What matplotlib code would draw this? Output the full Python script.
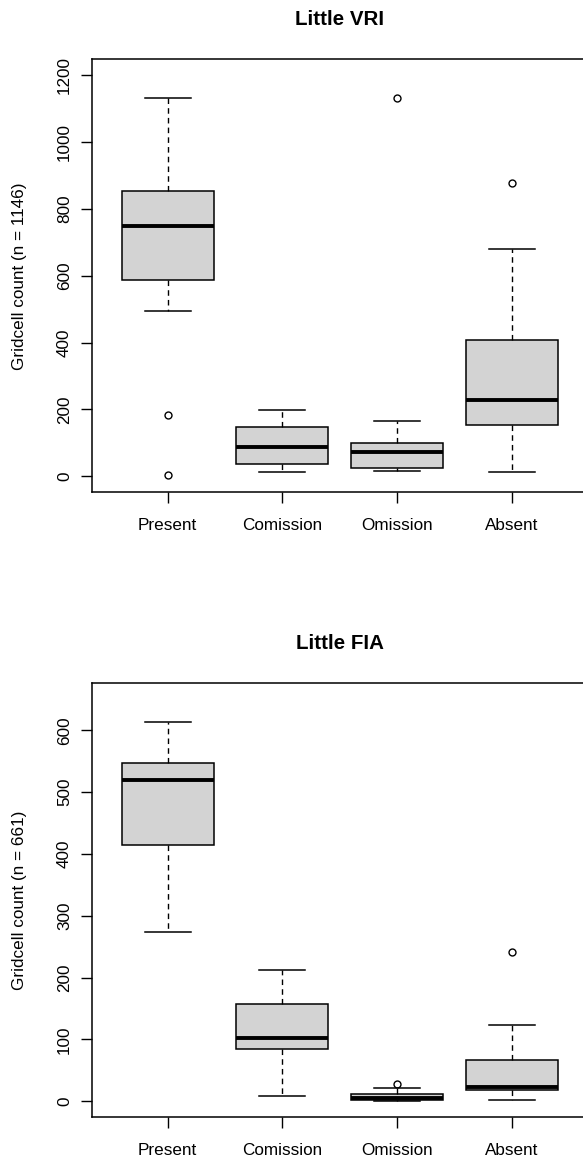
import numpy as np
import matplotlib
matplotlib.use("Agg")
import matplotlib.pyplot as plt

plt.rcParams['font.family'] = ['Liberation Sans', 'DejaVu Sans']

categories = ["Present", "Comission", "Omission", "Absent"]

# Little VRI
vri_whislo = [496, 12, 17, 12]
vri_q1 = [588, 37, 25, 153]
vri_med = [749, 87, 73, 227]
vri_q3 = [855, 148, 100, 408]
vri_whishi = [1133, 199, 166, 680]
vri_fliers = [[183, 3], [], [1133], [879]]

# Little FIA
fia_whislo = [273, 8, 0, 2]
fia_q1 = [415, 85, 2, 18]
fia_med = [519, 103, 6, 23]
fia_q3 = [547, 158, 11, 66]
fia_whishi = [613, 212, 22, 124]
fia_fliers = [[], [], [28], [242]]

W, H = 583, 1161
fig = plt.figure(figsize=(W / 100, H / 100), dpi=100)


def make_stats(lo, q1, med, q3, hi, fl):
    stats = []
    for i in range(len(categories)):
        stats.append(dict(whislo=lo[i], q1=q1[i], med=med[i], q3=q3[i],
                          whishi=hi[i], fliers=fl[i], label=categories[i]))
    return stats


def draw_panel(top_px, bottom_px, stats, ylim, yticks, title, ylabel):
    # R-style plot region: xlim 0.5..4.5 padded by 4%, right edge runs off the page
    left_px, right_px = 91.8, 587.8
    ax = fig.add_axes([left_px / W, 1 - bottom_px / H,
                       (right_px - left_px) / W, (bottom_px - top_px) / H])
    ax.bxp(stats, positions=[1, 2, 3, 4], widths=0.8, patch_artist=True,
           boxprops=dict(facecolor='#d3d3d3', edgecolor='black', linewidth=1.1),
           medianprops=dict(color='black', linewidth=2.8, solid_capstyle='butt'),
           whiskerprops=dict(color='black', linewidth=1.0, linestyle=(0, (4, 3))),
           capprops=dict(color='black', linewidth=1.1),
           capwidths=0.4,
           flierprops=dict(marker='o', markerfacecolor='none', markeredgecolor='black',
                           markersize=5, markeredgewidth=1.0))
    ax.set_xlim(0.34, 4.66)
    ax.set_ylim(*ylim)
    ax.set_yticks(yticks)
    ax.set_xticks([1, 2, 3, 4])
    ax.set_xticklabels(categories)
    ax.tick_params(axis='both', direction='out', length=7.7, width=1.0,
                   labelsize=12.3, colors='black')
    ax.tick_params(axis='y', pad=6.5)
    ax.tick_params(axis='x', pad=19.4)
    for lab in ax.get_yticklabels():
        lab.set_rotation(90)
        lab.set_va('center')
    for lab in ax.get_xticklabels():
        lab.set_va('baseline')
    for sp in ax.spines.values():
        sp.set_linewidth(1.1)
        sp.set_color('black')
    fig.text((left_px + right_px) / 2 / W, 1 - (top_px - 34.5) / H, title,
             ha='center', va='baseline', fontsize=14.8, fontweight='bold')
    fig.text(20 / W, 1 - (top_px + bottom_px) / 2 / H, ylabel, ha='center', va='center',
             rotation=90, fontsize=12.3)
    return ax


draw_panel(59.3, 492.3, make_stats(vri_whislo, vri_q1, vri_med, vri_q3, vri_whishi, vri_fliers),
           (-48, 1248), [0, 200, 400, 600, 800, 1000, 1200], "Little VRI",
           "Gridcell count (n = 1146)")
draw_panel(683.3, 1117.3, make_stats(fia_whislo, fia_q1, fia_med, fia_q3, fia_whishi, fia_fliers),
           (-26, 676), [0, 100, 200, 300, 400, 500, 600], "Little FIA",
           "Gridcell count (n = 661)")

fig.savefig("out.png", dpi=100)
